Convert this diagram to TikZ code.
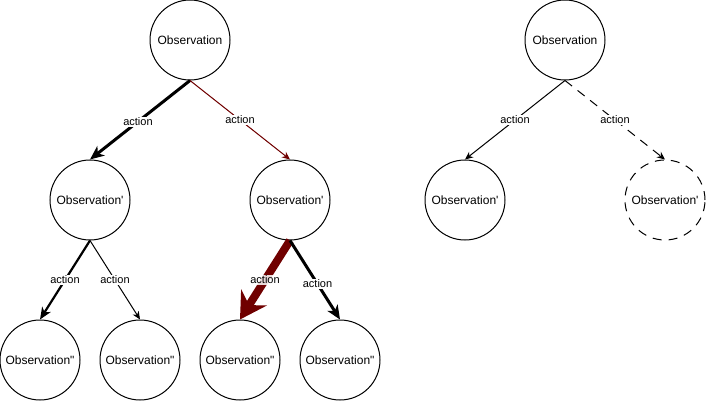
\documentclass[tikz,border=0pt]{standalone}
\usepackage{fontspec}
\setmainfont{Liberation Sans}[Ligatures=TeXOff]
\usetikzlibrary{arrows.meta}
\definecolor{darkred}{RGB}{112,0,0}
\tikzset{
  obs/.style={circle,draw=black,line width=1pt,minimum size=80pt,inner sep=0pt,fill=white,font=\fontsize{12}{14}\selectfont},
  lbl/.style={fill=white,inner sep=1pt,font=\fontsize{11}{13}\selectfont},
  thinarrow/.style={line width=1pt,-{Stealth[length=8pt,width=7pt,inset=2.5pt]}},
  midarrow/.style={line width=2.2pt,-{Stealth[length=12pt,width=10pt,inset=3.5pt]}},
  thickarrow/.style={line width=3pt,-{Stealth[length=14pt,width=12pt,inset=4pt]}},
  hugearrow/.style={line width=8pt,-{Stealth[length=26pt,width=30pt,inset=9pt]}},
}
\begin{document}
\begin{tikzpicture}[x=1pt,y=-1pt]
\useasboundingbox (0,0) rectangle (707,401);
% left tree
\node[obs] (r) at (190,40) {Observation};
\node[obs] (a) at (90,200) {Observation'};
\node[obs] (b) at (290,200) {Observation'};
\node[obs] (aa) at (40,360) {Observation"};
\node[obs] (ab) at (140,360) {Observation"};
\node[obs] (ba) at (240,360) {Observation"};
\node[obs] (bb) at (340,360) {Observation"};
% right tree
\node[obs] (r2) at (565,40) {Observation};
\node[obs] (c) at (465,200) {Observation'};
\node[obs,dash pattern=on 9pt off 7pt] (d) at (665,200) {Observation'};
% edges
\draw[thickarrow] (r.south) -- node[lbl,pos=0.52] {action} (a.north);
\draw[thinarrow,draw=darkred,fill=darkred] (r.south) -- node[lbl,pos=0.5] {action} (b.north);
\draw[midarrow] (a.south) -- node[lbl] {action} (aa.north);
\draw[thinarrow] (a.south) -- node[lbl] {action} (ab.north);
\draw[hugearrow,draw=darkred,fill=darkred] (b.south) -- node[lbl,pos=0.5,fill opacity=0.85,text opacity=1] {action} (ba.north);
\draw[thickarrow] (b.south) -- node[lbl,pos=0.55] {action} (bb.north);
\draw[thinarrow] (r2.south) -- node[lbl] {action} (c.north);
\draw[thinarrow,dash pattern=on 9pt off 7pt] (r2.south) -- node[lbl] {action} (d.north);
\end{tikzpicture}
\end{document}
